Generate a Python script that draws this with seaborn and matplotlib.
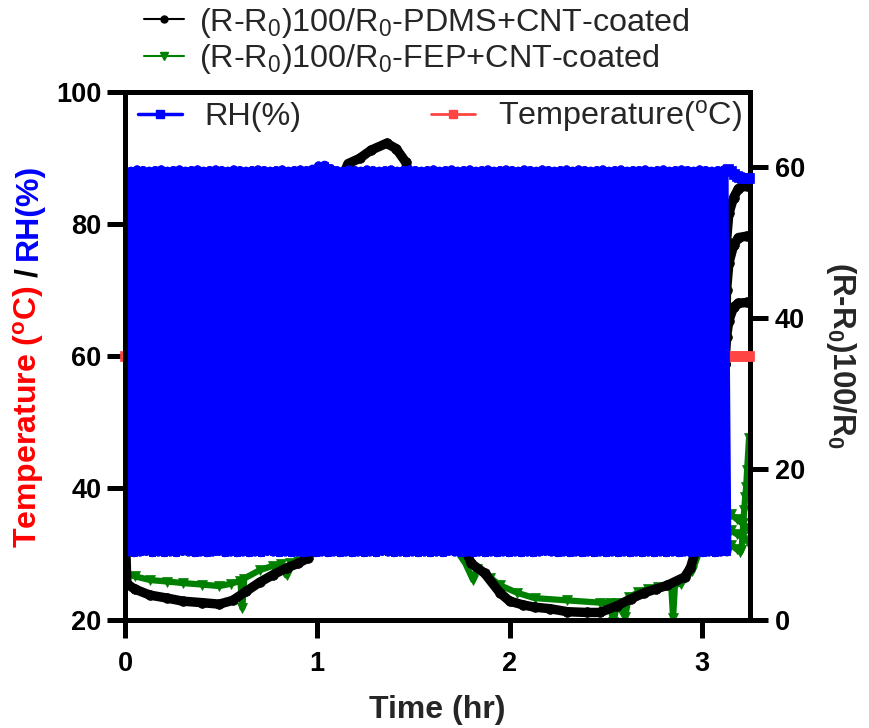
import numpy as np
import pandas as pd
import matplotlib
matplotlib.use("Agg")
import matplotlib.pyplot as plt
import seaborn as sns
from matplotlib.lines import Line2D

# ------------------------------------------------------------------ data
# RH (%) : rapid cycling between ~30 and ~88 % (left axis)
rh_block_start, rh_block_end = 0.0, 3.13
rh_block = [
    88.1, 30.3, 88.0, 30.2, 88.2, 30.3, 88.1, 30.4, 88.0, 30.2,
    88.1, 30.3, 88.2, 30.2, 88.0, 30.3, 88.1, 30.2, 88.2, 30.4,
    88.0, 30.3, 88.1, 30.2, 88.2, 30.3, 88.0, 30.2, 88.1, 30.3,
    88.2, 30.4, 88.1, 30.2, 88.0, 30.3, 88.2, 30.2, 88.1, 30.3,
    88.0, 30.2, 88.1, 30.3, 88.2, 30.2, 88.1, 30.4, 88.0, 30.3,
    88.1, 30.2, 88.2, 30.3, 88.0, 30.2, 88.1, 30.3, 88.2, 30.2,
    88.1, 30.3, 88.3, 30.2, 88.8, 30.3, 88.9, 30.2, 88.4, 30.3,
    88.1, 30.2, 88.0, 30.3, 88.2, 30.2, 88.1, 30.3, 88.0, 30.2,
    88.2, 30.3, 88.1, 30.2, 88.0, 30.4, 88.1, 30.3, 88.2, 30.2,
    88.0, 30.3, 88.1, 30.2, 88.2, 30.3, 88.1, 30.2, 88.0, 30.3,
    88.1, 30.2, 88.2, 30.3, 88.0, 30.2, 88.1, 30.4, 88.2, 30.3,
    88.0, 30.2, 88.1, 30.3, 88.2, 30.2, 88.0, 30.3, 88.1, 30.2,
    88.2, 30.3, 88.0, 30.2, 88.1, 30.3, 88.2, 30.2, 88.1, 30.3,
    88.0, 30.2, 88.2, 30.3, 88.1, 30.2, 88.0, 30.3, 88.2, 30.4,
    88.1, 30.3, 88.0, 30.2, 88.1, 30.3, 88.2, 30.2, 88.0, 30.3,
    88.2, 30.2, 88.1, 30.3, 88.0, 30.2, 88.1, 30.3, 88.2, 30.2,
    88.0, 30.3, 88.1, 30.2, 88.2, 30.3, 88.0, 30.2, 88.1, 30.3,
    88.1, 30.2, 88.2, 30.3, 88.0, 30.2, 88.1, 30.3, 88.2, 30.2,
    88.0, 30.3, 88.1, 30.2, 88.2, 30.3, 88.1, 30.2, 88.0, 30.3,
    88.2, 30.2, 88.1, 30.3, 88.0, 30.2, 88.1, 30.3, 88.2, 30.3,
]
rh_tail_t = [3.135, 3.15, 3.165, 3.18, 3.195, 3.21, 3.225, 3.245]
rh_tail = [88.4, 88.0, 87.6, 87.3, 87.1, 87.0, 87.0, 87.0]

# Temperature (degC) : constant (left axis)
temp_t = [0.0, 0.4, 0.8, 1.2, 1.6, 2.0, 2.4, 2.8, 3.10, 3.13, 3.16, 3.19, 3.22, 3.245]
temp = [60.0, 60.0, 60.0, 60.0, 60.0, 60.0, 60.0, 60.0, 60.0, 60.0, 60.0, 60.0, 60.0, 60.0]

# (R-R0)100/R0 PDMS+CNT (right axis) - main run + two more rising arcs at the end
pdms_t = [0.00, 0.01, 0.05, 0.13, 0.22, 0.30, 0.40, 0.49, 0.56, 0.63, 0.70, 0.77,
          0.84, 0.90, 0.95, 1.00, 1.05, 1.10, 1.16, 1.22, 1.28, 1.36, 1.41, 1.46,
          1.52, 1.60, 1.70, 1.76, 1.80, 1.87, 1.95, 2.00, 2.07, 2.13, 2.21, 2.30,
          2.40, 2.47, 2.56, 2.63, 2.70, 2.76, 2.82, 2.91, 2.94, 3.00, 3.06, 3.10,
          3.12, 3.128, 3.14, 3.165, 3.19, 3.235]
pdms = [12.4, 4.8, 4.1, 3.3, 2.9, 2.5, 2.3, 2.1, 2.6, 3.8, 5.0, 6.0,
        6.9, 7.5, 8.2, 20.0, 45.0, 57.0, 60.5, 61.2, 62.3, 63.2, 62.5, 60.7,
        55.0, 40.0, 20.0, 10.0, 7.5, 6.2, 3.6, 2.5, 2.0, 1.7, 1.5, 1.1,
        1.0, 1.0, 1.9, 2.8, 3.6, 4.1, 4.6, 5.7, 6.9, 12.0, 22.0, 29.0,
        34.0, 37.5, 39.7, 41.5, 42.0, 42.1]
pdms_arc_t = [3.12, 3.128, 3.14, 3.165, 3.19, 3.235]
pdms_arc2 = [34.0, 43.7, 47.3, 49.7, 50.7, 50.9]
pdms_arc3 = [34.0, 50.3, 53.9, 56.0, 57.2, 57.6]

# (R-R0)100/R0 FEP+CNT (right axis)
fep_t = [0.00, 0.05, 0.13, 0.22, 0.30, 0.40, 0.49, 0.55, 0.60, 0.61, 0.62, 0.70,
         0.77, 0.81, 0.84, 0.86, 0.90, 0.95, 1.00, 1.05, 1.10, 1.20, 1.36, 1.46,
         1.55, 1.65, 1.73, 1.77, 1.81, 1.83, 1.90, 1.95, 2.04, 2.13, 2.30, 2.47,
         2.52, 2.54, 2.56, 2.60, 2.62, 2.67, 2.72, 2.77, 2.84, 2.85, 2.86, 2.89,
         2.95, 3.00, 3.06, 3.10, 3.12, 3.15, 3.18, 3.21, 3.235]
fep = [6.2, 5.8, 5.3, 5.1, 4.9, 4.7, 4.5, 4.8, 5.2, 1.6, 5.5, 6.6,
       7.2, 7.4, 5.9, 7.6, 7.8, 8.5, 18.0, 40.0, 55.0, 58.0, 58.5, 57.0,
       45.0, 25.0, 9.0, 7.5, 5.3, 6.8, 5.6, 4.6, 3.6, 2.9, 2.6, 2.3,
       2.2, -0.3, 2.3, 0.4, 3.0, 3.7, 4.1, 4.4, 4.7, 0.3, 4.7, 4.8,
       6.5, 10.0, 13.0, 14.8, 14.6, 14.0, 13.4, 12.8, 12.2]
fep_s2_t = [3.12, 3.15, 3.18, 3.21, 3.235]
fep_s2 = [12.3, 11.9, 11.4, 11.0, 10.5]
fep_s3_t = [3.12, 3.15, 3.18, 3.20, 3.205, 3.21, 3.215, 3.22, 3.225, 3.23, 3.235, 3.245]
fep_s3 = [10.6, 10.0, 9.4, 9.0, 9.3, 10.6, 12.8, 14.6, 16.3, 17.6, 19.9, 24.1]

# ------------------------------------------------------------------ frames
idx = np.arange(len(rh_block))
rh_df = pd.DataFrame({"t": np.linspace(rh_block_start, rh_block_end, len(rh_block)),
                      "v": rh_block})
# dense cycling trace drawn as short strokes so it renders as a solid band
rh_df_a = rh_df.assign(u=idx // 2)
rh_df_b = rh_df.assign(u=(idx + 1) // 2)
rh_tail_df = pd.DataFrame({"t": rh_tail_t, "v": rh_tail})
temp_df = pd.DataFrame({"t": temp_t, "v": temp})
pdms_df = pd.concat([
    pd.DataFrame({"t": pdms_t, "v": pdms, "seg": 0}),
    pd.DataFrame({"t": pdms_arc_t, "v": pdms_arc2, "seg": 1}),
    pd.DataFrame({"t": pdms_arc_t, "v": pdms_arc3, "seg": 2}),
], ignore_index=True)
fep_df = pd.concat([
    pd.DataFrame({"t": fep_t, "v": fep, "seg": 0}),
    pd.DataFrame({"t": fep_s2_t, "v": fep_s2, "seg": 1}),
    pd.DataFrame({"t": fep_s3_t, "v": fep_s3, "seg": 2}),
], ignore_index=True)

# ------------------------------------------------------------------ style
sns.set_theme(style="ticks")
plt.rcParams["font.family"] = ["Liberation Sans", "DejaVu Sans"]
plt.rcParams["mathtext.fontset"] = "custom"
plt.rcParams["mathtext.rm"] = "Liberation Sans"
plt.rcParams["mathtext.it"] = "Liberation Sans:italic"
plt.rcParams["mathtext.bf"] = "Liberation Sans:bold"

W, H = 869, 728
fig = plt.figure(figsize=(W / 100, H / 100), dpi=100)
fig.patch.set_facecolor("white")
ax = fig.add_axes([125 / W, 1 - 620 / H, 625 / W, 528 / H])
ax2 = ax.twinx()
ax.set_zorder(2)
ax2.set_zorder(1)
ax.patch.set_visible(False)

BLUE = "#0000FF"
RED_LINE = "#FF4444"
GREEN = "#008000"

# right axis series
sns.lineplot(data=fep_df, x="t", y="v", units="seg", estimator=None, sort=False,
             ax=ax2, color=GREEN, lw=4.5, marker="v", markersize=7,
             mec=GREEN, mew=0.5, legend=False)
sns.lineplot(data=pdms_df, x="t", y="v", units="seg", estimator=None, sort=False,
             ax=ax2, color="black", lw=6.8, marker="o", markersize=7,
             mec="black", mew=0.5, legend=False)

# left axis series
sns.lineplot(data=temp_df, x="t", y="v", estimator=None, sort=False, ax=ax,
             color=RED_LINE, lw=2, marker="s", markersize=7, mec=RED_LINE,
             mew=0.5, clip_on=False, legend=False)
for d in (rh_df_a, rh_df_b):
    sns.lineplot(data=d, x="t", y="v", units="u", estimator=None, sort=False, ax=ax,
                 color=BLUE, lw=6.5, marker="s", markersize=5, mec=BLUE,
                 mew=0.5, solid_capstyle="round", legend=False)
sns.lineplot(data=rh_tail_df, x="t", y="v", estimator=None, sort=False, ax=ax,
             color=BLUE, lw=3, marker="s", markersize=7, mec=BLUE,
             mew=0.5, clip_on=False, legend=False)

# axes
ax.set_xlim(0, 3.25)
ax.set_ylim(20, 100)
ax2.set_ylim(0, 70)
ax.set_xticks([0, 1, 2, 3])
ax.set_yticks([20, 40, 60, 80, 100])
ax2.set_yticks([0, 20, 40, 60])
ax.set_xlabel("")
ax.set_ylabel("")
ax2.set_ylabel("")

for s in ["left", "bottom", "top"]:
    ax.spines[s].set_visible(True)
    ax.spines[s].set_linewidth(3.6)
    ax.spines[s].set_color("black")
ax.spines["right"].set_visible(False)
for s in ["left", "bottom", "top"]:
    ax2.spines[s].set_visible(False)
ax2.spines["right"].set_visible(True)
ax2.spines["right"].set_linewidth(3.6)
ax2.spines["right"].set_color("black")

ax.tick_params(axis="both", length=13, width=3.6, labelsize=19.5, color="black",
               labelcolor="black", direction="out")
ax.tick_params(axis="x", pad=9, top=False)
ax.tick_params(axis="y", pad=4, right=False)
ax2.tick_params(axis="y", length=13, width=3.6, labelsize=19.5, pad=5,
                color="black", labelcolor="black", direction="out")
for lbl in ax.get_xticklabels() + ax.get_yticklabels() + ax2.get_yticklabels():
    lbl.set_fontweight("bold")

# legends
LEG_FS = 23.3
h_blue = Line2D([], [], color=BLUE, lw=2.5, marker="s", markersize=6)
h_red = Line2D([], [], color=RED_LINE, lw=2, marker="s", markersize=6)
ax.legend([h_blue, h_red], ["RH(%)", r"Temperature($^{\mathrm{o}}$C)"], ncol=2,
          loc="center left", bbox_to_anchor=(13 / 625, 0.9527), frameon=False,
          fontsize=LEG_FS, handlelength=1.36, handletextpad=0.7, columnspacing=4.0,
          borderpad=0, borderaxespad=0)

h_k = Line2D([], [], color="black", lw=1.5, marker="o", markersize=5)
h_g = Line2D([], [], color=GREEN, lw=1.5, marker="v", markersize=6)
fig.legend([h_k, h_g],
           [r"(R-R$_0$)100/R$_0$-PDMS+CNT-coated", r"(R-R$_0$)100/R$_0$-FEP+CNT-coated"],
           loc="center left", bbox_to_anchor=(144 / W, 1 - 41 / H), frameon=False,
           fontsize=LEG_FS, handlelength=1.25, handletextpad=0.45, labelspacing=0.08,
           borderpad=0, borderaxespad=0)

# axis titles
fig.text(437.5 / W, (H - 710) / H, "Time (hr)", ha="center", va="center",
         fontsize=23, fontweight="bold")
fig.text(841 / W, (H - 355) / H, r"(R-R$_{\mathbf{0}}$)100/R$_{\mathbf{0}}$", rotation=270,
         ha="center", va="center", fontsize=22.5, fontweight="bold")

# multi-coloured left axis title
fig.canvas.draw()
rend = fig.canvas.get_renderer()
parts = [(r"Temperature ($^{\mathbf{o}}$C)", "#FF0000"), ("/", "black"), ("RH(%)", BLUE)]
gap = 8
texts, lengths = [], []
for s, c in parts:
    t = fig.text(0, 0, s, rotation=90, rotation_mode="anchor", ha="left",
                 va="baseline", fontsize=23, fontweight="bold", color=c)
    bb = t.get_window_extent(rend)
    texts.append(t)
    lengths.append(bb.height)
total = sum(lengths) + gap * (len(parts) - 1)
y = (H - 356) - total / 2
for t, L in zip(texts, lengths):
    t.set_position((37 / W, y / H))
    y += L + gap

fig.savefig("out.png", dpi=100)
